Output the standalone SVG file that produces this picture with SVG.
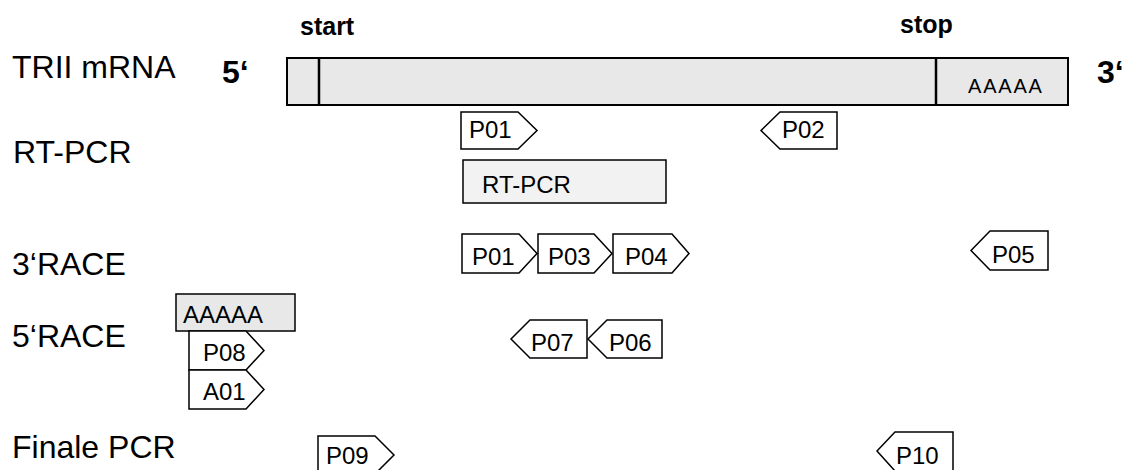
<svg xmlns="http://www.w3.org/2000/svg" width="1126" height="470" viewBox="0 0 1126 470">
<style>
text{font-family:"Liberation Sans",Arial,sans-serif;fill:#000}
.lbl{font-size:32px}
.b{font-weight:bold}
.pt{font-size:24px}
.pr{fill:#fff;stroke:#000;stroke-width:1.5;stroke-linejoin:miter}
.gray{fill:#e8e8e8;stroke:#000;stroke-width:2}
</style>
<rect width="1126" height="470" fill="#fff"/>
<g id="labels">
<text class="lbl" x="12" y="78">TRII mRNA</text>
<text class="lbl" x="13" y="163">RT-PCR</text>
<text class="lbl" x="12" y="275">3‘RACE</text>
<text class="lbl" x="12" y="347">5‘RACE</text>
<text class="lbl" x="12" y="458">Finale PCR</text>
<text class="b" x="300" y="35" font-size="25">start</text>
<text class="b" x="900" y="33" font-size="25">stop</text>
<text class="b" x="222" y="83" font-size="32">5‘</text>
<text class="b" x="1097" y="83" font-size="32">3‘</text>
</g>
<g id="mrna">
<rect class="gray" x="287" y="58" width="781" height="47"/>
<line x1="319" y1="58" x2="319" y2="105" stroke="#000" stroke-width="2.5"/>
<line x1="936" y1="58" x2="936" y2="105" stroke="#000" stroke-width="2.5"/>
<text x="968" y="93" font-size="20" letter-spacing="1.8">AAAAA</text>
</g>
<g id="rtpcr-row">
<g id="p01a"><path class="pr" d="M461,112H518L537,130.5L518,149H461Z"/><text class="pt" x="469" y="138">P01</text></g>
<g id="p02"><path class="pr" d="M761,130.5L780,112H837V149H780Z"/><text class="pt" x="782" y="138">P02</text></g>
<g id="rtpcr-box"><rect x="463" y="160" width="203" height="43" fill="#f2f2f2" stroke="#000" stroke-width="1.5"/><text class="pt" x="482" y="193">RT-PCR</text></g>
</g>
<g id="race3-row">
<g id="p01b"><path class="pr" d="M462,234H519L537,253.5L519,273H462Z"/><text class="pt" x="472" y="265">P01</text></g>
<g id="p03"><path class="pr" d="M538,234H594L612,253.5L594,273H538Z"/><text class="pt" x="548" y="265">P03</text></g>
<g id="p04"><path class="pr" d="M613,234H672L689,253.5L672,273H613Z"/><text class="pt" x="625" y="265">P04</text></g>
<g id="p05"><path class="pr" d="M971,250.5L990,231H1048V270H990Z"/><text class="pt" x="992" y="263">P05</text></g>
</g>
<g id="race5-row">
<g id="polyA"><rect x="176" y="294" width="119" height="37" fill="#e8e8e8" stroke="#000" stroke-width="1.5"/><text class="pt" x="183" y="323">AAAAA</text></g>
<g id="p08"><path class="pr" d="M189,331H246L264,350.5L246,370H189Z"/><text class="pt" x="203" y="361">P08</text></g>
<g id="a01"><path class="pr" d="M189,370H246L264,389.5L246,409H189Z"/><text class="pt" x="203" y="400">A01</text></g>
<g id="p07"><path class="pr" d="M511,339L530,320H587V358H530Z"/><text class="pt" x="531" y="351">P07</text></g>
<g id="p06"><path class="pr" d="M588,339L607,320H662V358H607Z"/><text class="pt" x="609" y="351">P06</text></g>
</g>
<g id="final-row">
<g id="p09"><path class="pr" d="M318,436H375L394,455L375,474H318Z"/><text class="pt" x="326" y="464">P09</text></g>
<g id="p10"><path class="pr" d="M877,451L895,432H953V471H895Z"/><text class="pt" x="896" y="464">P10</text></g>
</g>
<g id="connectors"></g>
</svg>
